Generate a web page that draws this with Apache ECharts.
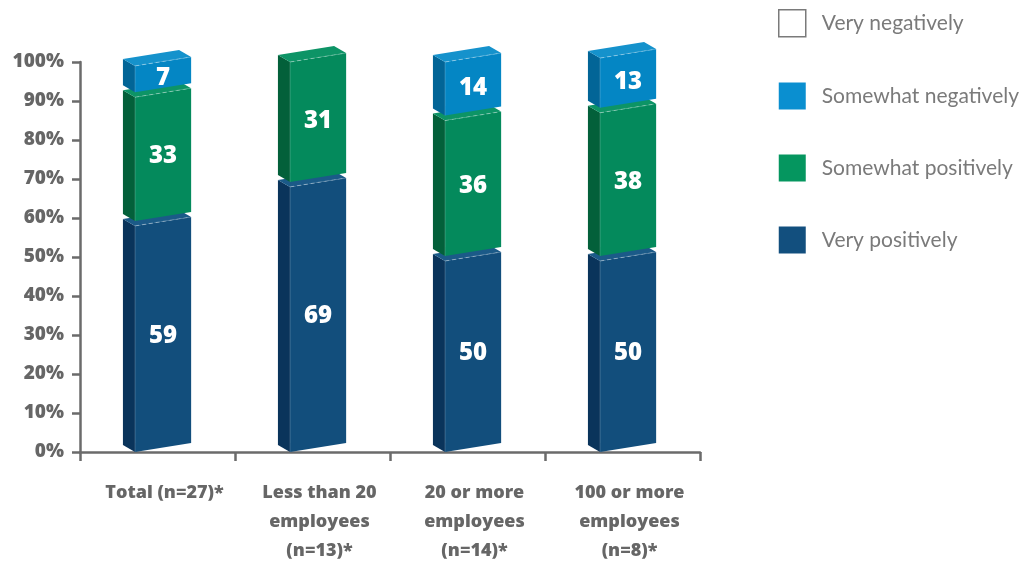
<!DOCTYPE html>
<html>
<head>
<meta charset="utf-8">
<script src="https://cdn.jsdelivr.net/npm/echarts@6/dist/echarts.min.js"></script>
<style>
  html, body { margin: 0; padding: 0; background: #ffffff; }
  #chart { width: 1021px; height: 561px; }
</style>
</head>
<body>
<div id="chart"></div>
<script>
// Survey responses, percent of respondents per group
const categories = [
  'Total (n=27)*',
  'Less than 20\nemployees\n(n=13)*',
  '20 or more\nemployees\n(n=14)*',
  '100 or more\nemployees\n(n=8)*'
];
const veryPositively     = [59, 69, 50, 50];
const somewhatPositively = [33, 31, 36, 38];
const somewhatNegatively = [7, 0, 14, 13];
const veryNegatively     = [0, 0, 0, 0];
const yTickLabels = ['0%', '10%', '20%', '30%', '40%', '50%', '60%', '70%', '80%', '90%', '100%'];

const boldFont = '"Open Sans", Lato, sans-serif';

// Box face colours (side, front, top) and legend swatches
const palette = {
  'Very positively':     { side: '#0A345B', front: '#124E7C', top: '#1B5A88', legend: '#124F7E' },
  'Somewhat positively': { side: '#03603A', front: '#048A5C', top: '#0D9466', legend: '#05965F' },
  'Somewhat negatively': { side: '#026597', front: '#0486C4', top: '#1592CC', legend: '#0A8FD0' },
  'Very negatively':     { side: '#ffffff', front: '#ffffff', top: '#ffffff', legend: '#ffffff' }
};

// Bottom-to-top stacking order
const stackOrder = [
  { name: 'Very positively', values: veryPositively },
  { name: 'Somewhat positively', values: somewhatPositively },
  { name: 'Somewhat negatively', values: somewhatNegatively },
  { name: 'Very negatively', values: veryNegatively }
];

// Build [category, start, end, value, isTopmost] rows per series
const running = categories.map(() => 0);
const seriesRows = stackOrder.map((s, k) => {
  return categories.map((c, i) => {
    const start = running[i];
    const end = start + s.values[i];
    running[i] = end;
    let topmost = 1;
    for (let j = k + 1; j < stackOrder.length; j++) {
      if (stackOrder[j].values[i] > 0) topmost = 0;
    }
    return [i, start, end, s.values[i], topmost];
  });
});

function makeRenderer(name) {
  const col = palette[name];
  return function (params, api) {
    const i = api.value(0), s = api.value(1), e = api.value(2), v = api.value(3), topmost = api.value(4);
    if (!v) return null;
    const band = api.size([1, 0])[0];
    const pb = api.coord([i, s]);
    const pt = api.coord([i, e]);
    const cx = pb[0];
    const fw = band * 0.362;      // front face width
    const sw = band * 0.078;      // side face width
    const nx = cx - band * 0.145; // near vertical edge
    const dyF = fw * 0.16;        // front face rise to the right
    const dyS = sw * 0.58;        // side face rise to the left
    const yb = pb[1] - (s > 0 ? 1 : 0);
    const yt = pt[1] + (topmost ? 0 : 4);
    const ym = api.coord([i, (s + e) / 2])[1];
    const children = [
      { type: 'polygon', shape: { points: [[nx - sw, yb - dyS], [nx, yb], [nx, yt], [nx - sw, yt - dyS]] },
        style: { fill: col.side } },
      { type: 'polygon', shape: { points: [[nx, yb], [nx + fw, yb - dyF], [nx + fw, yt - dyF], [nx, yt]] },
        style: { fill: col.front } },
      { type: 'polygon', shape: { points: [[nx, yt], [nx + fw, yt - dyF], [nx + fw - sw, yt - dyF - dyS], [nx - sw, yt - dyS]] },
        style: { fill: col.top } },
      { type: 'line', shape: { x1: nx, y1: yt, x2: nx + fw, y2: yt - dyF },
        style: { stroke: 'rgba(255,255,255,0.35)', lineWidth: 1, lineDash: [4, 3] } },
      { type: 'line', shape: { x1: nx, y1: yb, x2: nx, y2: yt },
        style: { stroke: 'rgba(255,255,255,0.18)', lineWidth: 1 } },
      { type: 'text', style: {
          text: String(v), x: nx + fw / 2, y: ym - 1, align: 'center', verticalAlign: 'middle',
          fill: '#ffffff', fontSize: 24, fontWeight: 800, fontFamily: boldFont
        } }
    ];
    return { type: 'group', children: children };
  };
}

const series = stackOrder.map((s, k) => ({
  name: s.name,
  type: 'custom',
  renderItem: makeRenderer(s.name),
  encode: { x: 0, y: [1, 2] },
  itemStyle: { color: palette[s.name].legend },
  data: seriesRows[k],
  z: 2
}));

const chart = echarts.init(document.getElementById('chart'), null, { renderer: 'canvas' });
chart.setOption({
  animation: false,
  backgroundColor: '#ffffff',
  grid: { left: 80, top: 62, width: 620, height: 390, outerBoundsMode: 'none', containLabel: false },
  legend: {
    orient: 'vertical',
    left: 778,
    top: 9,
    padding: 0,
    itemWidth: 27,
    itemHeight: 27,
    itemGap: 45,
    icon: 'rect',
    selectedMode: false,
    textStyle: { fontFamily: 'Lato', fontSize: 21, color: '#7a7a7a', padding: [0, 0, 0, 11] },
    data: [
      { name: 'Very negatively', itemStyle: { color: '#ffffff', borderColor: '#7a7a7a', borderWidth: 1.5 } },
      { name: 'Somewhat negatively', itemStyle: { color: palette['Somewhat negatively'].legend } },
      { name: 'Somewhat positively', itemStyle: { color: palette['Somewhat positively'].legend } },
      { name: 'Very positively', itemStyle: { color: palette['Very positively'].legend } }
    ]
  },
  xAxis: {
    type: 'category',
    data: categories,
    boundaryGap: true,
    axisLine: { lineStyle: { color: '#6b6b6b', width: 2.5 } },
    axisTick: { show: true, length: 9, lineStyle: { color: '#6b6b6b', width: 2.5 } },
    axisLabel: {
      interval: 0,
      margin: 26,
      color: '#666666',
      fontFamily: boldFont,
      fontWeight: 800,
      fontSize: 18,
      lineHeight: 29,
      align: 'center',
      padding: [0, 0, 0, 14]
    },
    splitLine: { show: false }
  },
  yAxis: {
    type: 'value',
    min: 0,
    max: 100,
    interval: 10,
    axisLine: { show: true, lineStyle: { color: '#6b6b6b', width: 2.5 } },
    axisTick: { show: true, length: 8, lineStyle: { color: '#6b6b6b', width: 2.5 } },
    axisLabel: {
      margin: 16,
      color: '#666666',
      fontFamily: boldFont,
      fontWeight: 800,
      fontSize: 19,
      formatter: function (val) { return yTickLabels[Math.round(val / 10)]; }
    },
    splitLine: { show: false }
  },
  series: series
});
</script>
</body>
</html>
